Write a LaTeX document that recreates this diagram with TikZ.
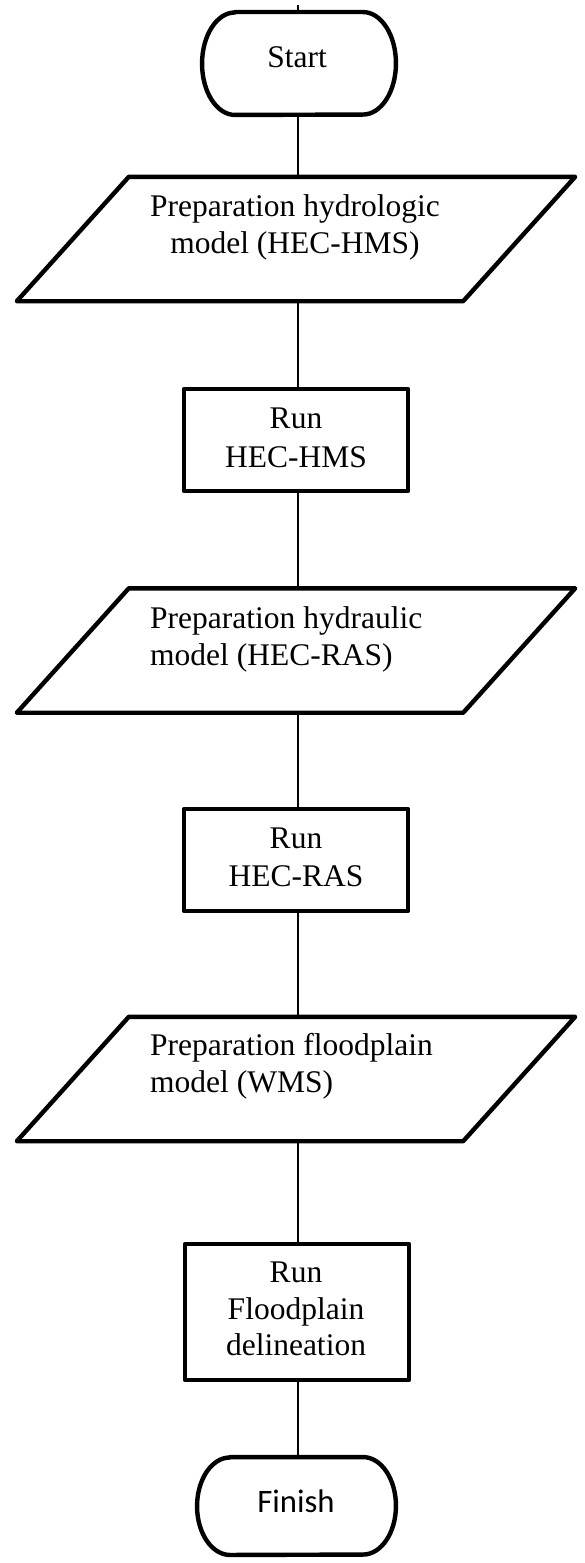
\documentclass[tikz,border=0pt]{standalone}
\usepackage{fontspec}
\setmainfont{Liberation Serif}
\newfontfamily\calib{Carlito}
\begin{document}
\begin{tikzpicture}[x=1pt,y=-1pt,
  shapeline/.style={draw=black, line width=4.4pt, line join=round},
  termbox/.style={draw=none, inner sep=0pt},
  proc/.style={shapeline, minimum width=224pt, inner sep=0pt},
  parabox/.style={draw=none, minimum width=446pt, minimum height=124pt, inner sep=0pt},
  txt/.style={inner sep=0pt, font=\fontsize{31.5}{37}\selectfont, align=center},
  txtl/.style={inner sep=0pt, font=\fontsize{31.5}{37}\selectfont, align=left},
  conn/.style={draw=black, line width=1.3pt}]
\useasboundingbox (0,0) rectangle (584,1563);
\fill[white] (0,0) rectangle (584,1563);

% shapes
\node[termbox, minimum width=193.5pt, minimum height=102.5pt] (start) at (299,63.5) {};
\node[parabox] (p1) at (296,239) {};
\node[proc, minimum height=102pt] (r1) at (296,440) {};
\node[parabox] (p2) at (296,650.5) {};
\node[proc, minimum height=102pt] (r2) at (296,860) {};
\node[parabox] (p3) at (296,1079) {};
\node[proc, minimum height=136pt] (r3) at (297,1312) {};
\node[termbox, minimum width=198.5pt, minimum height=97.5pt] (finish) at (296.5,1506) {};

% terminator outlines (elliptical ends)
\draw[shapeline] ([xshift=33pt]start.north west) -- ([xshift=-33pt]start.north east)
   arc[start angle=90, end angle=-90, x radius=33pt, y radius=51.25pt]
   -- ([xshift=33pt]start.south west)
   arc[start angle=270, end angle=90, x radius=33pt, y radius=51.25pt] -- cycle;
\draw[shapeline] ([xshift=33pt]finish.north west) -- ([xshift=-33pt]finish.north east)
   arc[start angle=90, end angle=-90, x radius=33pt, y radius=48.75pt]
   -- ([xshift=33pt]finish.south west)
   arc[start angle=270, end angle=90, x radius=33pt, y radius=48.75pt] -- cycle;

% parallelogram outlines
\foreach \p in {p1,p2,p3}{
  \draw[shapeline] ([xshift=-56pt]\p.south west) -- ([xshift=56pt]\p.north west)
     -- ([xshift=56pt]\p.north east) -- ([xshift=-56pt]\p.south east) -- cycle;
}

% connectors
\coordinate (top) at (298,5);
\draw[conn] (top) -- (top |- start.north);
\draw[conn] (start.south -| top) -- (top |- p1.north);
\draw[conn] (p1.south -| top) -- (top |- r1.north);
\draw[conn] (r1.south -| top) -- (top |- p2.north);
\draw[conn] (p2.south -| top) -- (top |- r2.north);
\draw[conn] (r2.south -| top) -- (top |- p3.north);
\draw[conn] (p3.south -| top) -- (top |- r3.north);
\draw[conn] (r3.south -| top) -- (top |- finish.north);

% texts
\node[txt, anchor=base] (tstart) at (297,67) {Start};
\node[txt, anchor=base] (tp1a) at (295,216) {Preparation hydrologic};
\node[txt, anchor=base] (tp1b) at (295,253) {model (HEC-HMS)};
\node[txt, anchor=base] (tr1a) at (296,428) {Run};
\node[txt, anchor=base] (tr1b) at (296,467) {HEC-HMS};
\node[txtl, anchor=base west] (tp2a) at (150,628) {Preparation hydraulic};
\node[txtl, anchor=base west] (tp2b) at (150,665) {model (HEC-RAS)};
\node[txt, anchor=base] (tr2a) at (296,848) {Run};
\node[txt, anchor=base] (tr2b) at (296,886) {HEC-RAS};
\node[txtl, anchor=base west] (tp3a) at (150,1055) {Preparation floodplain};
\node[txtl, anchor=base west] (tp3b) at (150,1092) {model (WMS)};
\node[txt, anchor=base] (tr3a) at (296,1282) {Run};
\node[txt, anchor=base] (tr3b) at (296,1319) {Floodplain};
\node[txt, anchor=base] (tr3c) at (296,1355) {delineation};
\node[inner sep=0pt, font=\calib\fontsize{32.7}{38}\selectfont, anchor=base] (tfinish) at (296,1512) {Finish};
\end{tikzpicture}
\end{document}
